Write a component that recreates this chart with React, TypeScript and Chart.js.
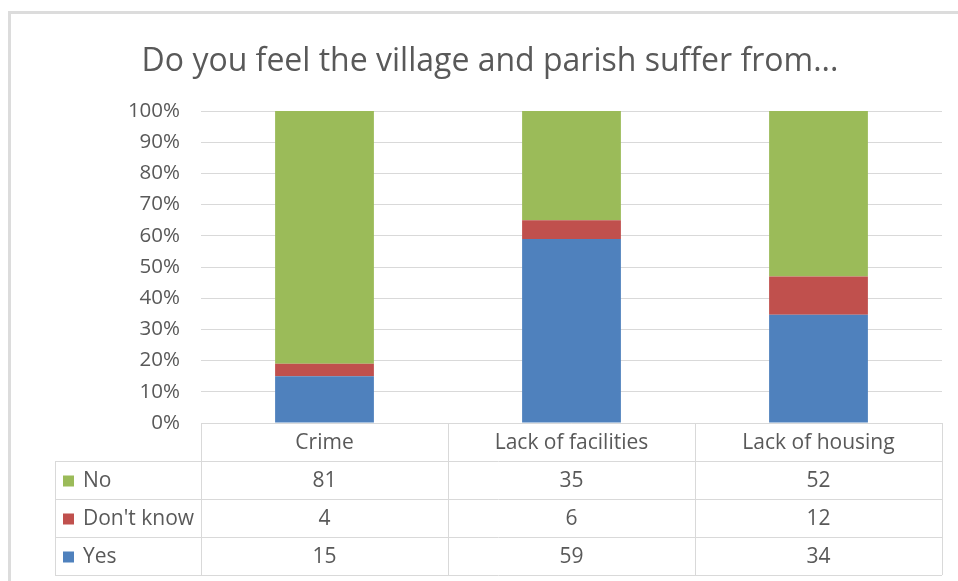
import React, { useEffect, useRef } from "react";
import { Chart, registerables } from "chart.js";

Chart.register(...registerables);

const titleText = "Do you feel the village and parish suffer from...";
const categories = ["Crime", "Lack of facilities", "Lack of housing"];
const yesCounts = [15, 59, 34];
const dontKnowCounts = [4, 6, 12];
const noCounts = [81, 35, 52];
const seriesNames = ["Yes", "Don't know", "No"];
const seriesColors = ["#4F81BD", "#C0504D", "#9BBB59"];
const yTickValues = [0, 10, 20, 30, 40, 50, 60, 70, 80, 90, 100];

const FONT = "'Open Sans', Lato, sans-serif";
const TEXT = "#595959";
const LINE = "#D9D9D9";

const allCounts = [yesCounts, dontKnowCounts, noCounts];
const totals = categories.map((_, i) => allCounts.reduce((s, a) => s + a[i], 0));
const toPct = (arr: number[]) => arr.map((v, i) => (v / totals[i]) * 100);

const tablePlugin = {
  id: "dataTable",
  afterDraw(chart: any) {
    const { ctx, chartArea } = chart;
    const xs = chart.scales.x;
    const n = categories.length;
    const colW = (chartArea.right - chartArea.left) / n;
    const rowH = 38;
    const top = chartArea.bottom;
    const legendLeft = 55;
    const right = chartArea.right;
    const nRows = seriesNames.length;
    ctx.save();
    ctx.strokeStyle = LINE;
    ctx.lineWidth = 1;
    const h = (y: number, x1: number, x2: number) => {
      ctx.beginPath();
      ctx.moveTo(x1, Math.round(y) + 0.5);
      ctx.lineTo(x2, Math.round(y) + 0.5);
      ctx.stroke();
    };
    const v = (x: number, y1: number, y2: number) => {
      ctx.beginPath();
      ctx.moveTo(Math.round(x) + 0.5, y1);
      ctx.lineTo(Math.round(x) + 0.5, y2);
      ctx.stroke();
    };
    const bottom = top + rowH * (nRows + 1);
    h(top, chartArea.left, right);
    for (let r = 1; r <= nRows + 1; r++) h(top + rowH * r, legendLeft, right);
    v(legendLeft, top + rowH, bottom);
    for (let c = 0; c <= n; c++) v(chartArea.left + colW * c, top, bottom);

    ctx.fillStyle = TEXT;
    ctx.font = `21px ${FONT}`;
    ctx.textAlign = "center";
    ctx.textBaseline = "middle";
    categories.forEach((cat, i) => {
      const cx = xs.getPixelForValue(i);
      ctx.fillText(cat, cx, top + rowH / 2 + 1);
    });
    const order = [2, 1, 0];
    order.forEach((si, r) => {
      const cy = top + rowH * (r + 1) + rowH / 2 + 1;
      ctx.fillStyle = seriesColors[si];
      ctx.fillRect(63, cy - 5.5, 11, 11);
      ctx.fillStyle = TEXT;
      ctx.textAlign = "left";
      ctx.fillText(seriesNames[si], 83, cy);
      ctx.textAlign = "center";
      categories.forEach((_, i) => {
        const cx = xs.getPixelForValue(i);
        ctx.fillText(String(allCounts[si][i]), cx, cy);
      });
    });
    ctx.restore();
  },
};

export default function App() {
  const ref = useRef<HTMLCanvasElement | null>(null);
  useEffect(() => {
    if (!ref.current) return;
    const chart = new Chart(ref.current, {
      type: "bar",
      data: {
        labels: categories,
        datasets: allCounts.map((arr, i) => ({
          label: seriesNames[i],
          data: toPct(arr),
          backgroundColor: seriesColors[i],
          borderWidth: 0,
          categoryPercentage: 1,
          barPercentage: 0.4,
        })),
      },
      options: {
        responsive: false,
        animation: false,
        layout: { padding: { left: 38, right: 16, top: 0, bottom: 158 } },
        plugins: {
          legend: { display: false },
          tooltip: { enabled: false },
          title: {
            display: true,
            text: titleText,
            color: TEXT,
            font: { family: FONT, size: 32, weight: "normal" },
            padding: { top: 43, bottom: 29.6 },
          },
        },
        scales: {
          x: { stacked: true, display: false },
          y: {
            stacked: true,
            min: 0,
            max: 100,
            afterBuildTicks: (scale: any) => {
              scale.ticks = yTickValues.map((value) => ({ value }));
            },
            afterFit: (scale: any) => {
              scale.width = 163;
            },
            border: { display: false },
            grid: { color: LINE, drawTicks: false },
            ticks: {
              padding: 21,
              color: TEXT,
              font: { family: FONT, size: 20.5 },
              callback: (v: any) => `${v}%`,
            },
          },
        },
      },
      plugins: [tablePlugin],
    });
    return () => chart.destroy();
  }, []);
  return (
    <div style={{ position: "absolute", left: 0, top: 0, width: 958, height: 581, overflow: "hidden", background: "#fff" }}>
      <div style={{ position: "absolute", left: 8, top: 11, width: 980, height: 600, borderTop: "3px solid #dcdcdc", borderLeft: "3px solid #dcdcdc", boxSizing: "border-box" }} />
      <canvas ref={ref} width={958} height={581} style={{ position: "absolute", left: 0, top: 0, display: "block" }} />
    </div>
  );
}
